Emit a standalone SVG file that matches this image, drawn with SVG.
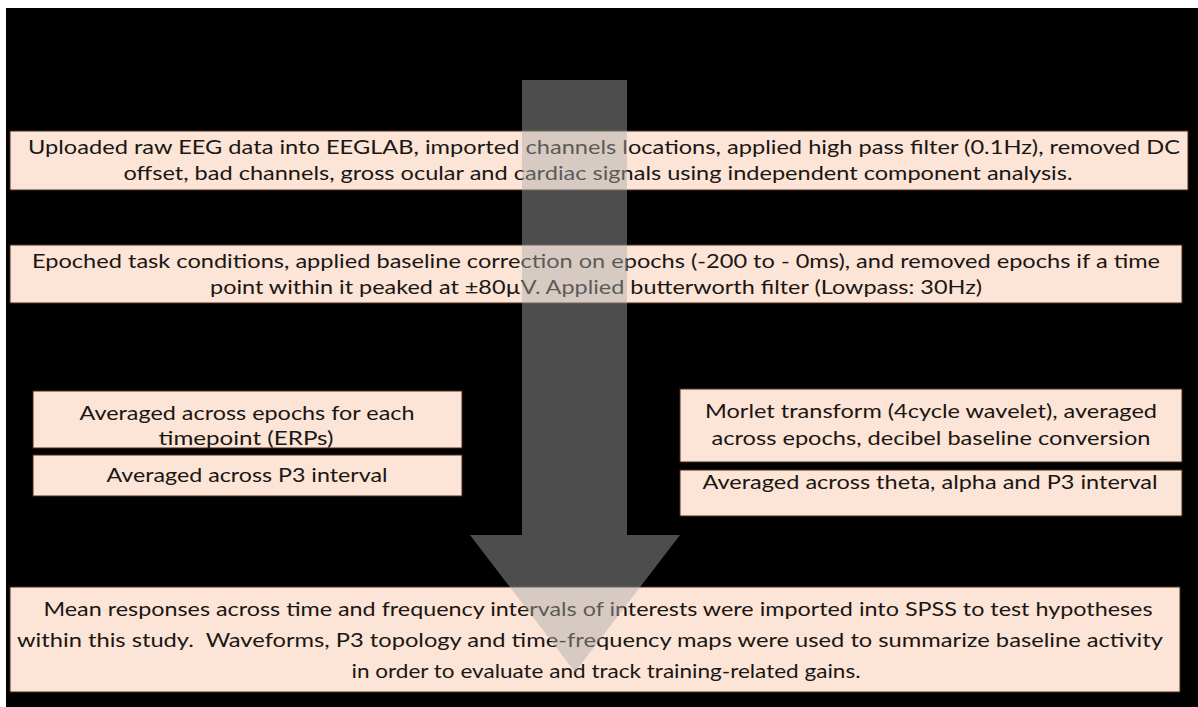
<svg xmlns="http://www.w3.org/2000/svg" width="1198" height="707" viewBox="0 0 1198 707">
<style>
.box{fill:#FCE4D6;stroke:#4a2a1a;stroke-width:1}
.t{font-family:Lato,"Open Sans","Liberation Sans",sans-serif;font-size:20px;fill:#1a1614;text-anchor:middle;white-space:pre}
.arrow{fill:#aaaaaa;fill-opacity:0.45}
</style>
<rect x="0" y="0" width="1198" height="707" fill="#ffffff"/>
<rect x="6" y="8" width="1192" height="699" fill="#000000"/>
<g id="step1">
<rect class="box" x="10" y="131" width="1178" height="59"/>
<text class="t" x="604" y="154" textLength="1152" lengthAdjust="spacingAndGlyphs">Uploaded raw EEG data into EEGLAB, imported channels locations, applied high pass filter (0.1Hz), removed DC</text>
<text class="t" x="598" y="180" textLength="949" lengthAdjust="spacingAndGlyphs">offset, bad channels, gross ocular and cardiac signals using independent component analysis.</text>
</g>
<g id="step2">
<rect class="box" x="10" y="245" width="1172" height="58"/>
<text class="t" x="596" y="268" textLength="1128" lengthAdjust="spacingAndGlyphs">Epoched task conditions, applied baseline correction on epochs (-200 to - 0ms), and removed epochs if a time</text>
<text class="t" x="596" y="294" textLength="772" lengthAdjust="spacingAndGlyphs">point within it peaked at ±80µV. Applied butterworth filter (Lowpass: 30Hz)</text>
</g>
<g id="erp-average">
<rect class="box" x="33" y="391" width="429" height="57"/>
<text class="t" x="247" y="420" textLength="335" lengthAdjust="spacingAndGlyphs">Averaged across epochs for each</text>
<text class="t" x="246" y="445" textLength="175" lengthAdjust="spacingAndGlyphs">timepoint (ERPs)</text>
</g>
<g id="erp-p3">
<rect class="box" x="33" y="455" width="429" height="41"/>
<text class="t" x="247" y="482" textLength="281" lengthAdjust="spacingAndGlyphs">Averaged across P3 interval</text>
</g>
<g id="morlet">
<rect class="box" x="680" y="389" width="502" height="73"/>
<text class="t" x="931" y="418" textLength="452" lengthAdjust="spacingAndGlyphs">Morlet transform (4cycle wavelet), averaged</text>
<text class="t" x="931" y="445" textLength="439" lengthAdjust="spacingAndGlyphs">across epochs, decibel baseline conversion</text>
</g>
<g id="tf-average">
<rect class="box" x="680" y="470" width="502" height="46"/>
<text class="t" x="930" y="489" textLength="455" lengthAdjust="spacingAndGlyphs">Averaged across theta, alpha and P3 interval</text>
</g>
<g id="stats">
<rect class="box" x="10" y="587" width="1170" height="105"/>
<text class="t" x="598" y="616" textLength="1109" lengthAdjust="spacingAndGlyphs">Mean responses across time and frequency intervals of interests were imported into SPSS to test hypotheses</text>
<text class="t" x="590" y="647" textLength="1146" lengthAdjust="spacingAndGlyphs">within this study.  Waveforms, P3 topology and time-frequency maps were used to summarize baseline activity</text>
<text class="t" x="606" y="678" textLength="509" lengthAdjust="spacingAndGlyphs">in order to evaluate and track training-related gains.</text>
</g>
<g id="connectors">
<path class="arrow" d="M522 80 H627 V535 H680 L575 672 L470 535 H522 Z"/>
</g>
</svg>
